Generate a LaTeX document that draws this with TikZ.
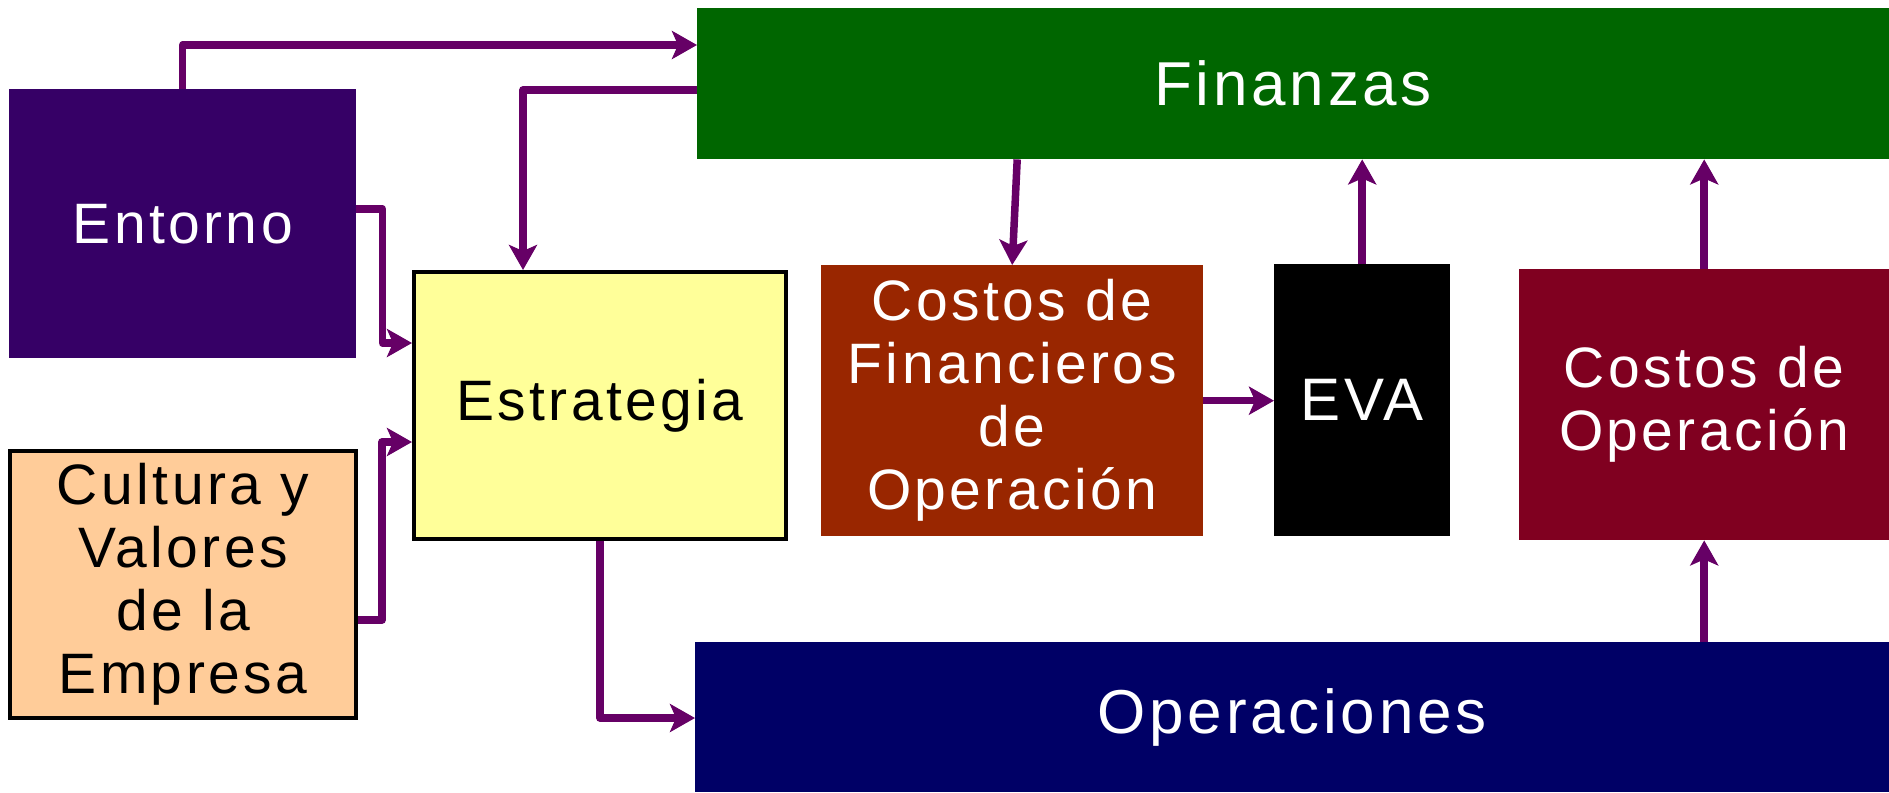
\documentclass[tikz,border=0pt]{standalone}
\usepackage{fontspec}
\setmainfont[LetterSpace=6]{Liberation Sans}
\usetikzlibrary{arrows.meta}
\definecolor{entc}{HTML}{360066}
\definecolor{finc}{HTML}{006600}
\definecolor{cfoc}{HTML}{992600}
\definecolor{cdoc}{HTML}{800020}
\definecolor{opec}{HTML}{000066}
\definecolor{estc}{HTML}{FFFF99}
\definecolor{culc}{HTML}{FFCC99}
\definecolor{arrc}{HTML}{660066}
\tikzset{
  blk/.style={rectangle, anchor=north west, inner sep=0pt, align=center, text=white,
              font=\fontsize{57}{63}\selectfont},
  bordered/.style={blk, draw=black, line width=4pt, text=black},
  arr/.style={draw=arrc, line width=7.5pt, line join=round,
              -{Stealth[length=25pt,width=28pt,inset=6pt,fill=arrc]}},
}
\begin{document}
\begin{tikzpicture}[x=1pt,y=-1pt]
\useasboundingbox (0,0) rectangle (1889,792);
\node[blk, fill=finc, minimum width=1192pt, minimum height=151pt,
      font=\fontsize{62}{68}\selectfont] (fin) at (697,8) {Finanzas};
\node[blk, fill=entc, minimum width=347pt, minimum height=269pt] (ent) at (9,89) {Entorno};
\node[bordered, fill=culc, minimum width=346pt, minimum height=267pt] (cul) at (8,449)
  {Cultura y\\Valores\\de la\\Empresa};
\node[bordered, fill=estc, minimum width=372pt, minimum height=267pt] (estr) at (412,270) {Estrategia};
\node[blk, fill=cfoc, minimum width=382pt, minimum height=271pt] (cfo) at (821,265)
  {Costos de\\Financieros\\de\\Operación};
\node[blk, fill=black, minimum width=176pt, minimum height=272pt,
      font=\fontsize{60}{66}\selectfont] (eva) at (1274,264) {EVA};
\node[blk, fill=cdoc, minimum width=370pt, minimum height=271pt] (cdo) at (1519,269)
  {Costos de\\Operación};
\node[blk, fill=opec, minimum width=1194pt, minimum height=150pt,
      font=\fontsize{62}{68}\selectfont] (ope) at (695,642) {Operaciones};

\draw[arr] (ent.north) |- ([yshift=-37pt]fin.north west);
\draw[arr] ([yshift=-82pt]fin.north west) -| ([xshift=111pt]estr.north west);
\draw[arr] ([yshift=-120pt]ent.north east) -- ++(26,0) |- ([yshift=-73pt]estr.north west);
\draw[arr] ([yshift=-171pt]cul.north east) -- ++(24,0) |- ([yshift=-172pt]estr.north west);
\draw[arr] (estr.south) |- ([yshift=-76pt]ope.north west);
\draw[arr] ([xshift=5pt]cfo.north |- fin.south) -- (cfo.north);
\draw[arr] (cfo.east) -- (cfo.east -| eva.west);
\draw[arr] (eva.north) -- (eva.north |- fin.south);
\draw[arr] (cdo.north) -- (cdo.north |- fin.south);
\draw[arr] (cdo.south |- ope.north) -- (cdo.south);
\end{tikzpicture}
\end{document}
